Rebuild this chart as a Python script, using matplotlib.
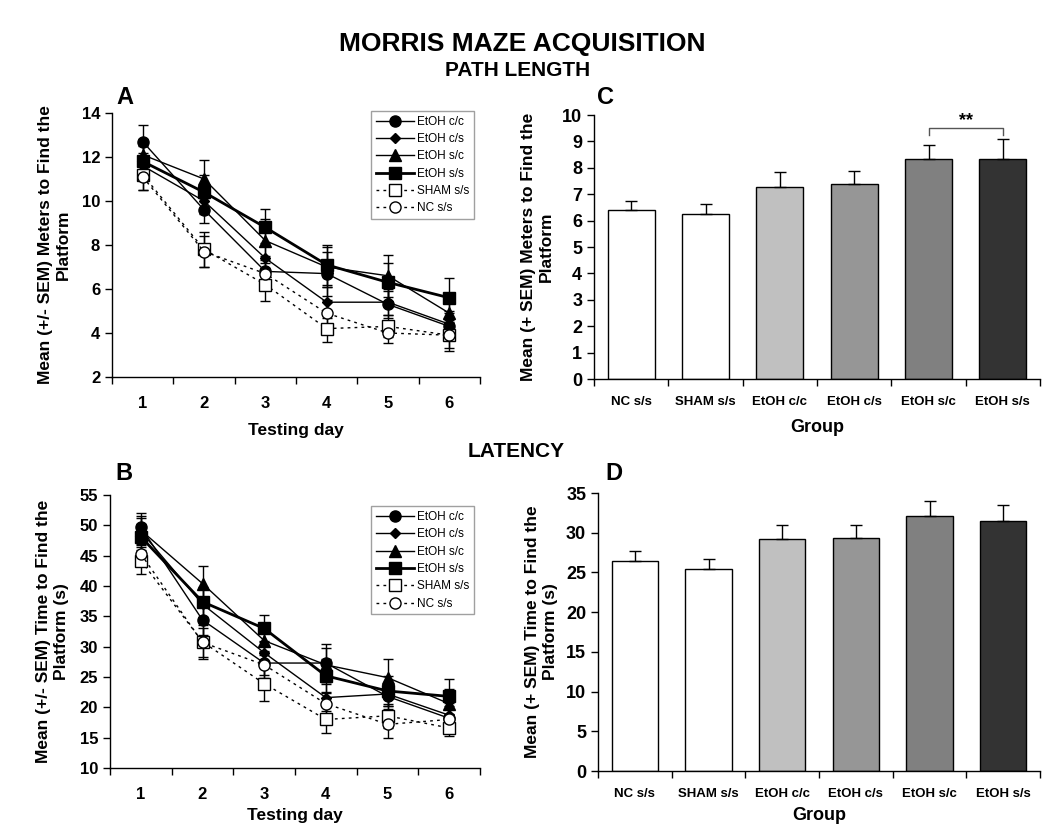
import matplotlib
matplotlib.use("Agg")
import matplotlib.pyplot as plt
import numpy as np

plt.rcParams['font.family'] = ['Liberation Sans', 'DejaVu Sans']

days = [1, 2, 3, 4, 5, 6]
series_names = ["EtOH c/c", "EtOH c/s", "EtOH s/c", "EtOH s/s", "SHAM s/s", "NC s/s"]

# Panel A: path length (m)
path_cc = [12.7, 9.6, 6.8, 6.7, 5.3, 4.3]
path_cs = [11.6, 10.0, 7.4, 5.4, 5.4, 4.4]
path_sc = [12.1, 11.0, 8.2, 7.0, 6.6, 4.9]
path_ss = [11.8, 10.4, 8.8, 7.1, 6.3, 5.6]
path_sham = [11.2, 7.8, 6.2, 4.2, 4.3, 3.9]
path_nc = [11.1, 7.7, 6.7, 4.9, 4.0, 3.9]
path_cc_err = [0.75, 0.6, 0.7, 1.0, 0.6, 0.6]
path_cs_err = [0.6, 0.6, 0.7, 0.7, 0.6, 0.6]
path_sc_err = [0.7, 0.85, 1.0, 0.9, 0.95, 0.7]
path_ss_err = [0.7, 0.8, 0.85, 0.9, 0.9, 0.9]
path_sham_err = [0.7, 0.8, 0.75, 0.6, 0.5, 0.7]
path_nc_err = [0.6, 0.7, 0.6, 0.6, 0.45, 0.6]

# Panel B: latency (s)
lat_cc = [49.7, 34.4, 27.3, 27.3, 21.8, 18.2]
lat_cs = [49.0, 37.0, 29.0, 21.6, 22.2, 18.7]
lat_sc = [49.2, 40.4, 31.0, 27.0, 24.9, 20.6]
lat_ss = [48.1, 37.4, 33.0, 25.2, 22.7, 21.8]
lat_sham = [44.2, 30.8, 23.9, 18.0, 18.6, 16.6]
lat_nc = [45.3, 30.7, 27.0, 20.6, 17.2, 18.0]
lat_cc_err = [2.4, 2.5, 2.0, 3.2, 2.0, 2.0]
lat_cs_err = [2.2, 2.5, 2.0, 2.2, 2.0, 2.0]
lat_sc_err = [2.3, 2.9, 2.3, 2.8, 3.0, 2.5]
lat_ss_err = [2.2, 2.5, 2.3, 2.8, 2.5, 2.9]
lat_sham_err = [2.2, 2.8, 2.8, 2.3, 2.0, 1.4]
lat_nc_err = [2.0, 2.4, 2.2, 2.0, 2.2, 1.8]

# Panels C, D
groups = ["NC s/s", "SHAM s/s", "EtOH c/c", "EtOH c/s", "EtOH s/c", "EtOH s/s"]
bar_path = [6.4, 6.25, 7.27, 7.37, 8.32, 8.35]
bar_path_err = [0.33, 0.37, 0.58, 0.52, 0.54, 0.74]
bar_lat = [26.45, 25.45, 29.15, 29.28, 32.14, 31.5]
bar_lat_err = [1.3, 1.22, 1.85, 1.72, 1.85, 1.99]
bar_colors = ["#ffffff", "#ffffff", "#c0c0c0", "#969696", "#808080", "#333333"]

styles = [
    dict(marker='o', ms=8, mfc='black', ls='-', lw=1.0),
    dict(marker='D', ms=5.5, mfc='black', ls='-', lw=1.0),
    dict(marker='^', ms=8, mfc='black', ls='-', lw=1.0),
    dict(marker='s', ms=8, mfc='black', ls='-', lw=2.0),
    dict(marker='s', ms=8, mfc='white', ls=(0, (2, 3)), lw=1.0),
    dict(marker='o', ms=8, mfc='white', ls=(0, (2, 3)), lw=1.0),
]

fig = plt.figure(figsize=(10.5, 8.32), dpi=100)
W, H = 1050, 832

def add_ax(l, t, r, b):
    return fig.add_axes([l / W, 1 - b / H, (r - l) / W, (b - t) / H])

def style_ax(ax):
    for s in ['top', 'right']:
        ax.spines[s].set_visible(False)
    for s in ['left', 'bottom']:
        ax.spines[s].set_linewidth(1.0)
    ax.tick_params(axis='both', direction='out', length=5, width=1.0)

def line_panel(ax, data, errs, ylim, yticks, ylabel, tick_pad, xlabelpad, leg_y):
    for name, vals, err, st in zip(series_names, data, errs, styles):
        ax.errorbar(days, vals, yerr=err, color='black', ecolor='black', elinewidth=1.0,
                    capsize=3.5, capthick=1.0, marker=st['marker'], ms=st['ms'],
                    mfc=st['mfc'], mec='black', mew=1.0, ls=st['ls'], lw=st['lw'],
                    label=name, zorder=3)
    ax.set_xlim(0.5, 6.5)
    ax.set_ylim(*ylim)
    ax.set_yticks(yticks)
    ax.set_yticklabels([str(v) for v in yticks], fontsize=12, fontweight='bold')
    ax.set_xticks(np.arange(0.5, 7.0, 1.0))
    ax.set_xticklabels([])
    ax.set_xticks(days, minor=True)
    ax.set_xticklabels([str(d) for d in days], minor=True, fontsize=12, fontweight='bold')
    style_ax(ax)
    ax.tick_params(axis='x', which='minor', length=0, pad=tick_pad)
    ax.set_xlabel("Testing day", fontsize=12.5, fontweight='bold', labelpad=xlabelpad)
    ax.set_ylabel(ylabel, fontsize=12.5, fontweight='bold', labelpad=8)
    handles, labels = ax.get_legend_handles_labels()
    handles = [h[0] for h in handles]
    leg = ax.legend(handles, labels, loc='upper right', bbox_to_anchor=(1.0, leg_y),
                    fontsize=8.5, frameon=True, fancybox=False, edgecolor='#888888',
                    handlelength=3.2, borderpad=0.4, labelspacing=0.45, handletextpad=0.3)
    leg.get_frame().set_linewidth(1.0)

def bar_panel(ax, vals, errs, ylim, yticks, ylabel, xlabelpad):
    x = np.arange(len(groups))
    ax.bar(x, vals, width=0.63, color=bar_colors, edgecolor='black', linewidth=1.0, zorder=2)
    ax.errorbar(x, vals, yerr=[np.zeros(len(vals)), errs], fmt='none', ecolor='black',
                elinewidth=1.0, capsize=4, capthick=1.0, zorder=3)
    ax.set_xlim(-0.5, 5.5)
    ax.set_ylim(*ylim)
    ax.set_yticks(yticks)
    ax.set_yticklabels([str(v) for v in yticks], fontsize=13, fontweight='bold')
    ax.set_xticks(np.arange(-0.5, 6.0, 1.0))
    ax.set_xticklabels([])
    ax.set_xticks(x, minor=True)
    ax.set_xticklabels(groups, minor=True, fontsize=9.5, fontweight='bold')
    style_ax(ax)
    ax.tick_params(axis='x', which='minor', length=0, pad=12)
    ax.set_xlabel("Group", fontsize=13, fontweight='bold', labelpad=xlabelpad)
    ax.set_ylabel(ylabel, fontsize=12.5, fontweight='bold', labelpad=6)

axA = add_ax(112, 113, 480, 377)
line_panel(axA, [path_cc, path_cs, path_sc, path_ss, path_sham, path_nc],
           [path_cc_err, path_cs_err, path_sc_err, path_ss_err, path_sham_err, path_nc_err],
           (2, 14), [2, 4, 6, 8, 10, 12, 14],
           "Mean (+/- SEM) Meters to Find the\nPlatform", 14, 8, 1.03)

axB = add_ax(110, 495, 480, 768)
line_panel(axB, [lat_cc, lat_cs, lat_sc, lat_ss, lat_sham, lat_nc],
           [lat_cc_err, lat_cs_err, lat_sc_err, lat_ss_err, lat_sham_err, lat_nc_err],
           (10, 55), [10, 15, 20, 25, 30, 35, 40, 45, 50, 55],
           "Mean (+/- SEM) Time to Find the\nPlatform (s)", 14, 4, 0.98)

axC = add_ax(594, 115, 1040, 379)
bar_panel(axC, bar_path, bar_path_err, (0, 10), list(range(0, 11)),
          "Mean (+ SEM) Meters to Find the\nPlatform", 8)
# significance bracket
axC.plot([4, 4, 5, 5], [9.25, 9.5, 9.5, 9.25], color='#555555', lw=1.0, clip_on=False)
axC.text(4.5, 9.8, "**", ha='center', va='center', fontsize=13, fontweight='bold')

axD = add_ax(598, 493, 1040, 771)
bar_panel(axD, bar_lat, bar_lat_err, (0, 35), list(range(0, 36, 5)),
          "Mean (+ SEM) Time to Find the\nPlatform (s)", 5)

fig.text(522 / W, 1 - 44 / H, "MORRIS MAZE ACQUISITION", ha='center', va='center',
         fontsize=19, fontweight='bold')
fig.text(518 / W, 1 - 70 / H, "PATH LENGTH", ha='center', va='center',
         fontsize=15, fontweight='bold')
fig.text(516 / W, 1 - 452 / H, "LATENCY", ha='center', va='center',
         fontsize=15, fontweight='bold')
for lab, xx, yy in [("A", 125, 97), ("B", 124, 473), ("C", 606, 97), ("D", 614, 473)]:
    fig.text(xx / W, 1 - yy / H, lab, ha='center', va='center', fontsize=17, fontweight='bold')

fig.savefig("out.png", dpi=100)
